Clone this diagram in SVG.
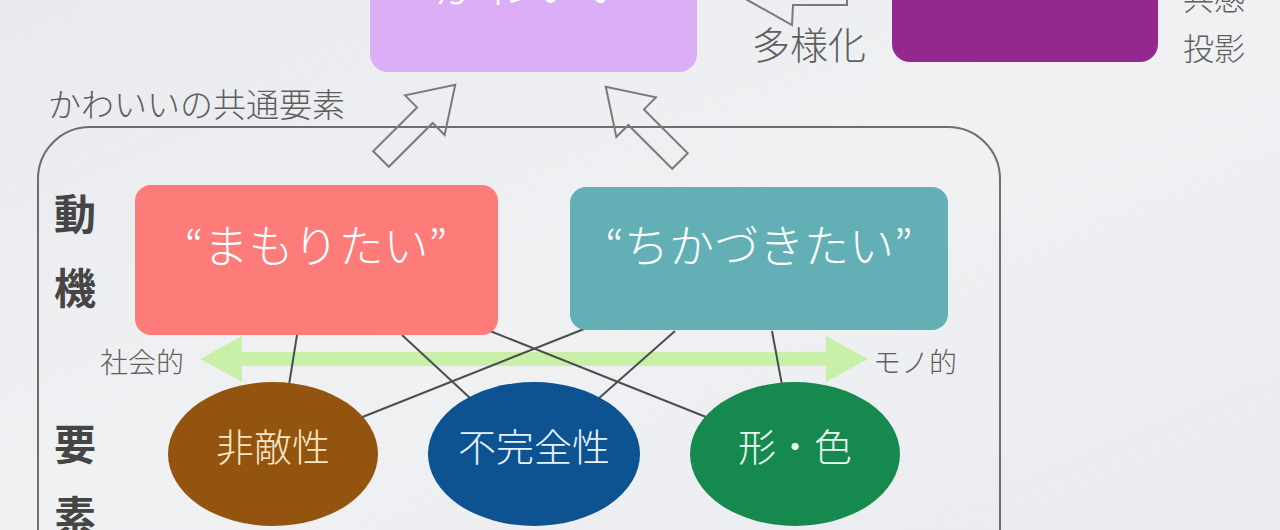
<svg xmlns="http://www.w3.org/2000/svg" width="1280" height="530" viewBox="0 0 1280 530">
<defs>
<linearGradient id="bg" x1="0" y1="0" x2="1" y2="1">
<stop offset="0" stop-color="#e8eaee"/>
<stop offset="0.5" stop-color="#f0f1f3"/>
<stop offset="1" stop-color="#e9ebef"/>
</linearGradient>
<style>
text{font-family:"Noto Sans CJK JP","Noto Sans",sans-serif;font-weight:300}
.lbl{fill:#5e5e5e}
.side{fill:#454545;font-size:42px;font-weight:bold}
.box{font-size:45px;fill:#ffffff;text-anchor:middle}
.ell{font-size:38px;text-anchor:middle}
.con{stroke:#4d4d4d;stroke-width:2;fill:none}
.hollow{stroke:#7a7a7a;stroke-width:2;fill:none;stroke-linejoin:miter}
</style>
</defs>
<rect x="0" y="0" width="1280" height="530" fill="url(#bg)"/>

<g id="kawaii">
<rect x="370" y="-40" width="327" height="112" rx="18" fill="#dcaef5"/>
<text x="533" y="3" class="box" style="font-size:50px">かわいい</text>
</g>
<g id="purple">
<rect x="892" y="-40" width="266" height="102" rx="18" fill="#95288f"/>
</g>
<g id="kyokan">
<text x="1183" y="10" class="lbl" style="font-size:31px">共感</text>
<text x="1183" y="60" class="lbl" style="font-size:31px">投影</text>
</g>

<g id="diversify">
<polygon class="hollow" points="733,-8 792,25 793,5 847,5 847,-21 793,-21 792,-41"/>
<text x="752" y="59" class="lbl" style="font-size:38px">多様化</text>
</g>

<g id="common">
<text x="48" y="117" class="lbl" style="font-size:33px">かわいいの共通要素</text>
<rect x="38" y="127" width="962" height="470" rx="52" fill="none" stroke="#6e6e6e" stroke-width="2"/>
<text x="54" y="230" class="side">動</text>
<text x="54" y="304" class="side">機</text>
<text x="54" y="460" class="side">要</text>
<text x="54" y="532" class="side">素</text>
</g>

<g id="up-arrows">
<polygon class="hollow" transform="translate(381,159) rotate(-45)" points="0,-11 62,-11 62,-28 105,0 62,28 62,11 0,11"/>
<polygon class="hollow" transform="translate(680,161) rotate(-135)" points="0,-11 62,-11 62,-28 105,0 62,28 62,11 0,11"/>
</g>

<g id="axis">
<polygon fill="#c8f0a8" points="200,359 242,336 242,352 826,352 826,336 868,359 826,382 826,366 242,366 242,382"/>
<text x="100" y="373" class="lbl" style="font-size:28px">社会的</text>
<text x="873" y="373" class="lbl" style="font-size:28px">モノ的</text>
</g>

<g id="connectors">
<line class="con" x1="297" y1="335" x2="289" y2="385"/>
<line class="con" x1="402" y1="335" x2="470" y2="398"/>
<line class="con" x1="490" y1="331" x2="706" y2="417"/>
<line class="con" x1="584" y1="329" x2="360" y2="418"/>
<line class="con" x1="675" y1="331" x2="598" y2="399"/>
<line class="con" x1="772" y1="331" x2="782" y2="385"/>
</g>

<g id="mamoritai">
<rect x="135" y="185" width="363" height="150" rx="16" fill="#fd7b78"/>
<text x="316" y="263" class="box">“まもりたい”</text>
</g>
<g id="chikazukitai">
<rect x="570" y="187" width="378" height="143" rx="16" fill="#62b0b5"/>
<text x="759" y="263" class="box">“ちかづきたい”</text>
</g>

<g id="hitekisei">
<ellipse cx="273" cy="454" rx="105" ry="72" fill="#93540f"/>
<text x="273" y="461" class="ell" fill="#f8e6c4">非敵性</text>
</g>
<g id="fukanzensei">
<ellipse cx="534" cy="454" rx="106" ry="72" fill="#0d5391"/>
<text x="534" y="461" class="ell" fill="#e8f4ff">不完全性</text>
</g>
<g id="katachi">
<ellipse cx="795" cy="454" rx="105" ry="72" fill="#168a4e"/>
<text x="795" y="461" class="ell" fill="#eefaf0">形・色</text>
</g>
</svg>
